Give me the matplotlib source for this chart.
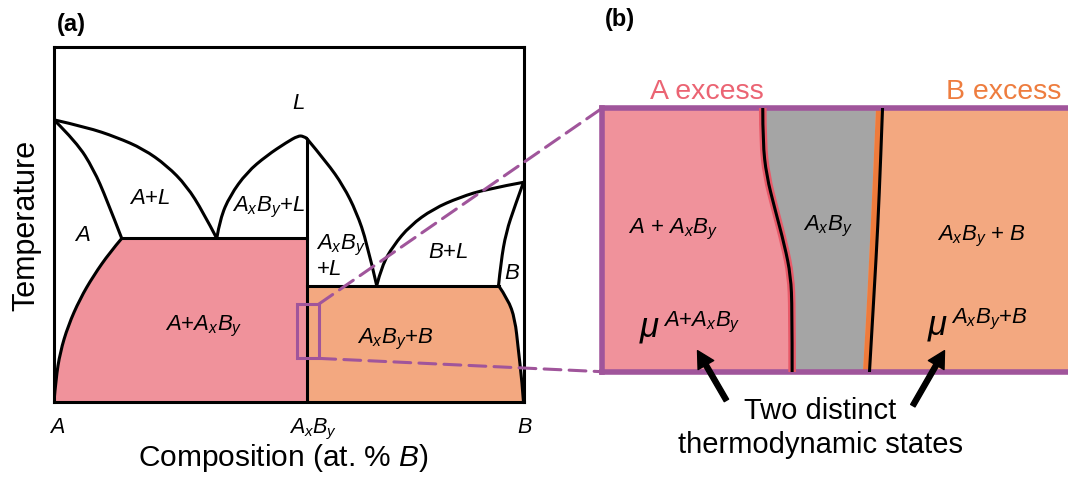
import numpy as np
import matplotlib
matplotlib.use("Agg")
import matplotlib.pyplot as plt
from matplotlib.path import Path
from matplotlib.patches import PathPatch, Rectangle, ConnectionPatch

plt.rcParams['font.family'] = ['Liberation Sans', 'DejaVu Sans']
plt.rcParams['mathtext.fontset'] = 'custom'
plt.rcParams['mathtext.rm'] = 'Liberation Sans'
plt.rcParams['mathtext.it'] = 'Liberation Sans:italic'

# colours
PINK = '#F0929B'
ORANGE = '#F3A880'
ORANGE_DARK = '#EE7B3C'
RED_EDGE = '#E85A69'
GREY = '#A5A5A5'
PURPLE = '#A0559B'

# ---- panel (a): phase diagram, composition (at.% B) vs temperature (a.u.) ----
x_compound = 53.7
T_compound = 74.2
T_eut1 = 46.0
T_eut2 = 32.7

liq_A = [(0, 79.4), (7.0, 77.3), (13.3, 74.5), (19.0, 71.2), (24.0, 66.5),
         (28.2, 60.8), (31.7, 53.4), (34.6, 46.0)]
sol_A = [(0, 79.4), (4.8, 73.1), (8.4, 65.5), (11.2, 57.0), (14.4, 46.0)]
solvus_A = [(14.4, 46.0), (11.9, 42.1), (8.4, 35.5), (5.5, 28.9), (3.0, 21.4),
            (1.3, 13.9), (0.4, 6.4), (0, 0)]
liq_C_left = [(34.6, 46.0), (35.3, 51.5), (37.4, 58.0), (41.0, 64.6), (45.2, 69.3),
              (49.5, 73.1), (51.9, 74.9), (53.0, 74.8), (53.7, 74.2)]
liq_C_right = [(53.7, 74.2), (58.0, 67.4), (61.5, 60.8), (64.3, 53.4), (66.5, 44.9),
               (68.6, 32.7)]
liq_B = [(68.6, 32.7), (69.7, 38.3), (72.1, 43.9), (75.7, 49.6), (80.6, 54.3),
         (86.3, 57.6), (92.0, 59.9), (99.8, 61.8)]
sol_B = [(94.5, 32.7), (95.0, 39.3), (96.1, 47.7), (98.0, 55.2), (99.8, 61.8)]
solvus_B = [(94.5, 32.7), (96.5, 28.9), (98.0, 23.3), (98.7, 14.8), (99.5, 5.5),
            (99.8, 0)]

tick_pos = [0.7, 55.0, 100.0]
tick_labels = ['$A$', '$A_xB_y$', '$B$']

# ---- panel (b): zoom on the compound, position vs depth (a.u.) ----
iface_left = [(34.5, 100), (34.5, 87.1), (35.3, 74.4), (37.1, 61.8), (39.2, 47.8),
              (40.5, 36.4), (40.8, 23.8), (40.8, 0)]
iface_right = [(60.2, 100), (59.8, 80.8), (59.2, 55.4), (58.4, 30.1), (57.4, 0)]
strip_right = [(58.8, 100), (58.1, 71.0), (57.4, 45.6), (56.7, 20.3), (56.0, 0)]


def smooth(pts):
    """quadratic bezier through midpoints -> smooth vertices/codes"""
    pts = np.asarray(pts, dtype=float)
    n = len(pts)
    if n == 2:
        return [pts[0], pts[1]], [Path.MOVETO, Path.LINETO]
    verts = [pts[0]]
    codes = [Path.MOVETO]
    for i in range(1, n - 1):
        end = pts[-1] if i == n - 2 else (pts[i] + pts[i + 1]) / 2
        verts += [pts[i], end]
        codes += [Path.CURVE3, Path.CURVE3]
    return verts, codes


def curve(ax, pts, **kw):
    v, c = smooth(pts)
    ax.add_patch(PathPatch(Path(v, c), fill=False, capstyle='round', **kw))


def region(ax, pieces, color, **kw):
    verts, codes = [], []
    for k, p in enumerate(pieces):
        v, c = smooth(p)
        if k > 0:
            c = [Path.LINETO] + c[1:]
        verts += list(v)
        codes += c
    verts.append(verts[0])
    codes.append(Path.CLOSEPOLY)
    ax.add_patch(PathPatch(Path(verts, codes), facecolor=color, edgecolor='none', **kw))


fig = plt.figure(figsize=(10.68, 4.81), dpi=100)

ax = fig.add_axes([0.05056, 0.16279, 0.44045, 0.73805])
ax.set_xlim(0, 100)
ax.set_ylim(0, 100)
for s in ax.spines.values():
    s.set_linewidth(2.2)

# filled two-phase solid regions
region(ax, [solvus_A, [(0, 0), (x_compound, 0)], [(x_compound, 0), (x_compound, T_eut1)]], PINK)
region(ax, [solvus_B, [(solvus_B[-1][0], 0), (x_compound, 0)],
            [(x_compound, 0), (x_compound, T_eut2)]], ORANGE)

lw = 2.2
for c in [liq_A, sol_A, solvus_A, liq_C_left, liq_C_right, liq_B, sol_B, solvus_B]:
    curve(ax, c, lw=lw, color='black', zorder=3)
ax.plot([sol_A[-1][0], x_compound], [T_eut1, T_eut1], color='black', lw=lw, zorder=3)
ax.plot([x_compound, sol_B[0][0]], [T_eut2, T_eut2], color='black', lw=lw, zorder=3)
ax.plot([x_compound, x_compound], [0, T_compound], color='black', lw=lw, zorder=3,
        solid_capstyle='butt')

fs = 16
ax.text(51.9, 82.6, '$L$', fontsize=fs, ha='center', va='baseline')
ax.text(20.4, 56.0, '$A$+$L$', fontsize=fs, ha='center', va='baseline')
ax.text(45.6, 53.8, '$A_xB_y$+$L$', fontsize=fs, ha='center', va='baseline')
ax.text(6.0, 45.6, '$A$', fontsize=fs, ha='center', va='baseline')
ax.text(55.7, 43.2, '$A_xB_y$', fontsize=fs, ha='left', va='baseline')
ax.text(55.8, 36.0, '+$L$', fontsize=fs, ha='left', va='baseline')
ax.text(83.9, 40.8, '$B$+$L$', fontsize=fs, ha='center', va='baseline')
ax.text(97.4, 34.8, '$B$', fontsize=fs, ha='center', va='baseline')
ax.text(31.9, 20.5, '$A$+$A_xB_y$', fontsize=fs, ha='center', va='baseline')
ax.text(72.6, 16.7, '$A_xB_y$+$B$', fontsize=fs, ha='center', va='baseline')

ax.set_xticks(tick_pos)
ax.set_xticklabels(tick_labels, fontsize=15.5)
ax.tick_params(axis='x', length=0, pad=10)
ax.set_yticks([])
ax.set_xlabel('Composition (at. % $B$)', fontsize=21.5)
ax.xaxis.set_label_coords(0.4875, -0.112)
ax.set_ylabel('Temperature', fontsize=22, labelpad=9)

zoom_box = Rectangle((51.7, 12.2), 4.6, 15.3, fill=False, edgecolor=PURPLE, lw=2.2, zorder=5)
ax.add_patch(zoom_box)

# ---- panel (b) ----
bx = fig.add_axes([0.56367, 0.22516, 0.43633, 0.54761])
bx.set_xlim(0, 100)
bx.set_ylim(0, 100)
bx.set_facecolor(ORANGE)
bx.set_xticks([])
bx.set_yticks([])
for k, s in bx.spines.items():
    s.set_color(PURPLE)
    s.set_linewidth(4)
bx.spines['right'].set_visible(False)

region(bx, [[(0, 0), (0, 100)], iface_left], PINK)
region(bx, [iface_left, strip_right[::-1]], GREY)
region(bx, [strip_right, iface_right[::-1]], ORANGE_DARK)
curve(bx, iface_left, lw=5.5, color=RED_EDGE, zorder=3)
curve(bx, iface_left, lw=2.2, color='black', zorder=4)
curve(bx, iface_right, lw=2.2, color='black', zorder=4)

bx.text(22.4, 103.8, 'A excess', color='#EB6473', fontsize=20.5, ha='center', va='baseline')
bx.text(86.1, 103.8, 'B excess', color='#EE7D3F', fontsize=20.5, ha='center', va='baseline')
bx.text(15.2, 52.7, '$A$ + $A_xB_y$', fontsize=fs, ha='center', va='baseline')
bx.text(48.5, 53.9, '$A_xB_y$', fontsize=fs, ha='center', va='baseline')
bx.text(81.5, 50.4, '$A_xB_y$ + $B$', fontsize=fs, ha='center', va='baseline')
bx.text(8.1, 13.9, 'μ', fontsize=25, style='italic', ha='left', va='baseline')
bx.text(13.1, 17.5, '$A$+$A_xB_y$', fontsize=fs, ha='left', va='baseline')
bx.text(70.0, 14.5, 'μ', fontsize=25, style='italic', ha='left', va='baseline')
bx.text(75.0, 18.8, '$A_xB_y$+$B$', fontsize=fs, ha='left', va='baseline')

arrow_style = 'simple,head_width=0.65,head_length=0.6,tail_width=0.18'
for head, tail in [((20.5, 8.0), (26.7, -10.9)), ((73.5, 8.0), (66.7, -12.9))]:
    bx.annotate('', xy=head, xytext=tail, annotation_clip=False,
                arrowprops=dict(arrowstyle=arrow_style, color='black',
                                mutation_scale=20, shrinkA=0, shrinkB=0))

bx.text(46.8, -17.7, 'Two distinct', fontsize=21, ha='center', va='baseline')
bx.text(46.8, -30.6, 'thermodynamic states', fontsize=21, ha='center', va='baseline')

# dashed zoom guides
dash = (0, (5.5, 2.7))
for ya, yb in [(27.5, 100), (12.2, 0)]:
    con = ConnectionPatch(xyA=(56.3, ya), coordsA=ax.transData,
                          xyB=(0, yb), coordsB=bx.transData,
                          color=PURPLE, lw=2.2, linestyle=dash, zorder=6)
    fig.add_artist(con)

fig.text(56.7 / 1068, 1 - 13.3 / 481, '(a)', fontsize=17, fontweight='bold', va='top')
fig.text(605 / 1068, 1 - 8.3 / 481, '(b)', fontsize=17, fontweight='bold', va='top')

fig.savefig('out.png', dpi=100)
